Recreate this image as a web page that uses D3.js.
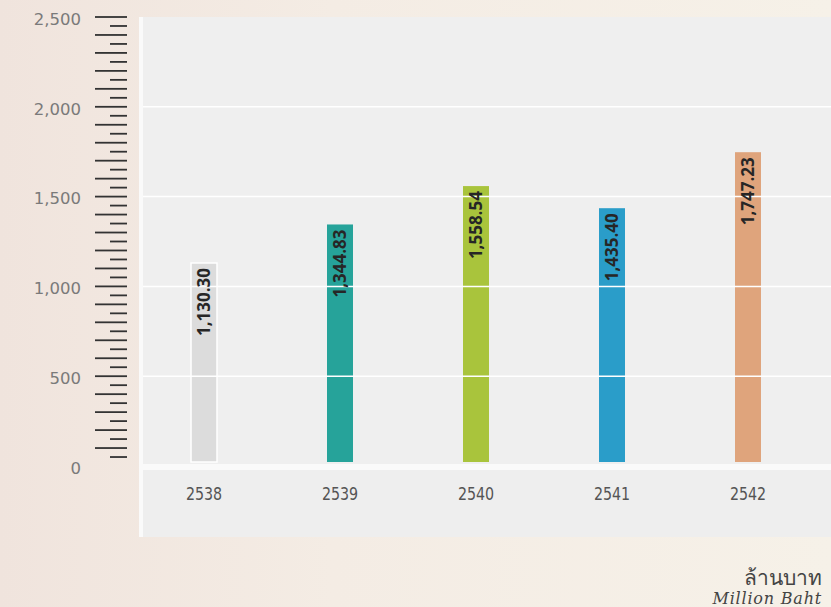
<!DOCTYPE html>
<html lang="th">
  <head>
    <meta charset="utf-8" />
    <title>Million Baht</title>
    <script src="https://d3js.org/d3.v7.min.js"></script>
    <style>
      body { margin: 0; }
    </style>
  </head>
  <body>
    <div id="chart"></div>
    <script>
      // data
      const years = ["2538", "2539", "2540", "2541", "2542"];
      const values = [1130.30, 1344.83, 1558.54, 1435.40, 1747.23];
      const barColors = ["#dcdcdc", "#26a39a", "#a9c43c", "#2a9dc9", "#dfa47c"];
      const yTicks = [0, 500, 1000, 1500, 2000, 2500];

      const width = 831, height = 607;

      const svg = d3.select("#chart")
        .append("svg")
        .attr("width", width)
        .attr("height", height);

      // warm paper background
      const defs = svg.append("defs");
      const grad = defs.append("linearGradient").attr("id", "bg")
        .attr("x1", "0").attr("y1", "0").attr("x2", "1").attr("y2", "0");
      grad.append("stop").attr("offset", "0%").attr("stop-color", "#f0e4dd");
      grad.append("stop").attr("offset", "40%").attr("stop-color", "#f4ece4");
      grad.append("stop").attr("offset", "100%").attr("stop-color", "#f6f1e8");
      svg.append("rect").attr("width", width).attr("height", height).attr("fill", "url(#bg)");

      const y = d3.scaleLinear().domain([0, 2500]).range([466, 17]);
      const x = d3.scalePoint().domain(years).range([204, 748]);
      const barW = 26;

      // panels
      svg.append("rect").attr("x", 139).attr("y", 17).attr("width", width - 139).attr("height", 520)
        .attr("fill", "#fafafa");
      svg.append("rect").attr("x", 143).attr("y", 17).attr("width", width - 143).attr("height", 447)
        .attr("fill", "#efefef");
      svg.append("rect").attr("x", 143).attr("y", 470).attr("width", width - 143).attr("height", 67)
        .attr("fill", "#eeeeee");

      // bars
      svg.append("g")
        .selectAll("rect")
        .data(values)
        .join("rect")
        .attr("x", (d, i) => x(years[i]) - barW / 2)
        .attr("y", d => y(d))
        .attr("width", barW)
        .attr("height", d => 462 - y(d))
        .attr("fill", (d, i) => barColors[i])
        .attr("stroke", (d, i) => i === 0 ? "#ffffff" : "none")
        .attr("stroke-width", 1.5);

      // white grid lines (they run over the bars)
      svg.append("g")
        .selectAll("line")
        .data(yTicks.filter(d => d > 0 && d < 2500))
        .join("line")
        .attr("x1", 143).attr("x2", width)
        .attr("y1", d => y(d)).attr("y2", d => y(d))
        .attr("stroke", "#ffffff").attr("stroke-width", 1.5);

      // ruler ticks every 50
      const rulerTicks = d3.range(50, 2501, 50);
      svg.append("g")
        .selectAll("line")
        .data(rulerTicks)
        .join("line")
        .attr("x1", d => d % 100 === 0 ? 95 : 110)
        .attr("x2", 127)
        .attr("y1", d => y(d)).attr("y2", d => y(d))
        .attr("stroke", "#333").attr("stroke-width", 1.8);

      // y axis labels
      const yAxis = svg.append("g")
        .attr("transform", "translate(81,2)")
        .call(d3.axisLeft(y).tickValues(yTicks).tickSize(0).tickPadding(0).tickFormat(d3.format(",")));
      yAxis.select(".domain").remove();
      yAxis.selectAll("text")
        .attr("font-family", "DejaVu Sans, sans-serif")
        .attr("font-size", 16.5)
        .attr("fill", "#7a7a7a");

      // value labels inside bars, rotated
      svg.append("g")
        .selectAll("text")
        .data(values)
        .join("text")
        .attr("transform", (d, i) => `translate(${x(years[i]) + 6},${y(d) + 5}) rotate(-90)`)
        .attr("text-anchor", "end")
        .attr("font-family", "Open Sans, sans-serif")
        .attr("font-weight", "bold")
        .attr("font-size", 17)
        .attr("fill", "#262626")
        .text(d => d3.format(",.2f")(d));

      // x labels
      svg.append("g")
        .selectAll("text")
        .data(years)
        .join("text")
        .attr("transform", d => `translate(${x(d)},500) scale(0.88,1)`)
        .attr("text-anchor", "middle")
        .attr("font-family", "DejaVu Sans Condensed, DejaVu Sans, sans-serif")
        .attr("font-size", 18)
        .attr("fill", "#555")
        .text(d => d);

      // unit
      svg.append("text")
        .attr("x", 822).attr("y", 585)
        .attr("text-anchor", "end")
        .attr("font-family", "Noto Sans, DejaVu Sans, sans-serif")
        .attr("font-size", 21)
        .attr("fill", "#444")
        .text("ล้านบาท");
      svg.append("text")
        .attr("x", 822).attr("y", 604)
        .attr("text-anchor", "end")
        .attr("font-family", "DejaVu Serif, serif")
        .attr("font-style", "italic")
        .attr("font-size", 16)
        .attr("letter-spacing", 0.8)
        .attr("fill", "#444")
        .text("Million Baht");
    </script>
  </body>
</html>
